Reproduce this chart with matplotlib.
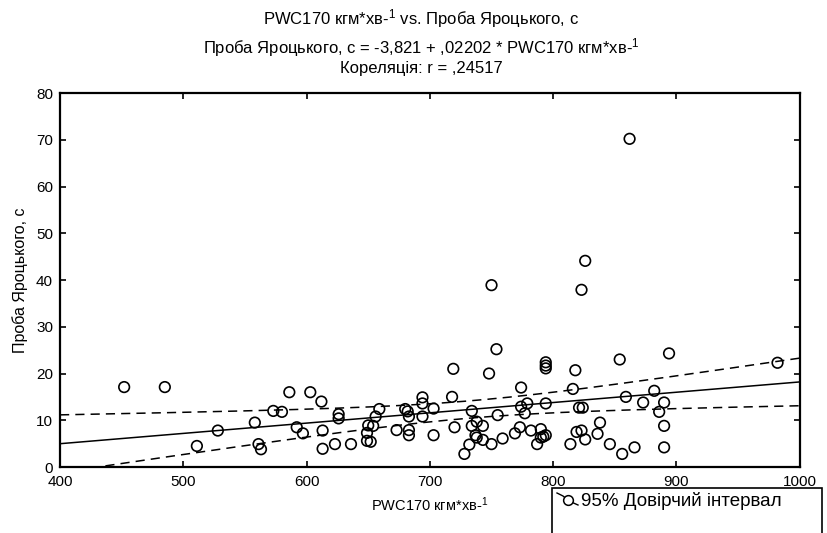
import numpy as np
import matplotlib
matplotlib.use('Agg')
import matplotlib.pyplot as plt
from matplotlib.lines import Line2D
from matplotlib.patches import Rectangle

plt.rcParams['font.family'] = ['Liberation Sans', 'DejaVu Sans']
plt.rcParams['mathtext.fontset'] = 'custom'
plt.rcParams['mathtext.rm'] = 'Liberation Sans'
plt.rcParams['mathtext.it'] = 'Liberation Sans:italic'

# PWC170 (кгм*хв-1) and Проба Яроцького (с)
pwc = [452, 485, 511, 528, 558, 561, 563,
       573, 580, 586, 603, 612, 592, 597, 613, 613, 623, 626, 626, 636,
       649, 650, 654, 649, 652, 656, 659, 673, 680, 682, 683, 683, 683,
       694, 694, 694, 703, 703, 718, 719, 720, 728, 732, 734, 734, 738,
       737, 738, 743, 743, 750, 748, 754, 755, 759, 769, 773, 774, 774,
       779, 777, 782, 790, 787, 790, 792, 794, 794, 794, 794, 794,
       750, 826, 823, 862, 894,
       818, 854, 816, 859, 882, 873, 890, 886, 821, 824, 838, 819, 823,
       826, 836, 814, 846, 856, 866, 890, 890, 982]
yaroc = [17.1, 17.1, 4.5, 7.8, 9.5, 4.9, 3.8,
         12.0, 11.8, 16.0, 16.0, 14.0, 8.5, 7.2, 7.8, 3.9, 4.9, 11.3, 10.4, 4.9,
         7.3, 8.9, 8.8, 5.6, 5.4, 10.8, 12.4, 7.9, 12.4, 11.9, 10.8, 7.9, 6.8,
         14.9, 13.6, 10.8, 12.5, 6.8, 15.0, 21.0, 8.5, 2.8, 4.8, 12.0, 8.8, 9.7,
         6.8, 6.3, 8.8, 5.8, 4.9, 20.0, 25.2, 11.1, 6.1, 7.2, 8.5, 17.0, 12.9,
         13.6, 11.5, 7.8, 8.1, 4.9, 6.3, 6.5, 6.8, 22.4, 21.7, 21.1, 13.6,
         38.9, 44.1, 37.9, 70.2, 24.3,
         20.7, 23.0, 16.7, 15.0, 16.3, 13.8, 13.8, 11.8, 12.7, 12.7, 9.5, 7.5, 7.8,
         5.9, 7.1, 4.9, 4.9, 2.8, 4.2, 8.8, 4.2, 22.3]

# regression from the chart header
b0 = -3.821
b1 = 0.02202
t_crit = 1.984

x = np.array(pwc, dtype=float)
y = np.array(yaroc, dtype=float)
n = len(x)
resid = y - (b0 + b1 * x)
s = np.sqrt(np.sum(resid ** 2) / (n - 2))
sxx = np.sum((x - x.mean()) ** 2)

xs = np.linspace(400, 1000, 200)
fit = b0 + b1 * xs
half = t_crit * s * np.sqrt(1.0 / n + (xs - x.mean()) ** 2 / sxx)

fig = plt.figure(figsize=(8.27, 5.33), dpi=100)
ax = fig.add_axes([0.0726, 0.1238, 0.8944, 0.7017])

ax.plot(xs, fit, color='black', linewidth=1.1)
ax.plot(xs, fit + half, color='black', linewidth=1.1, linestyle=(0, (6, 4)))
ax.plot(xs, fit - half, color='black', linewidth=1.1, linestyle=(0, (6, 4)))
ax.scatter(x, y, s=58, facecolors='none', edgecolors='black', linewidths=1.2, zorder=3)

ax.set_xlim(400, 1000)
ax.set_ylim(0, 80)
ax.set_xticks(np.arange(400, 1001, 100))
ax.set_yticks(np.arange(0, 81, 10))
ax.tick_params(direction='in', length=4, width=1.2, top=True, right=True,
               labelsize=11, pad=5, colors='black')
ax.tick_params(axis='x', pad=5.5)
for sp in ax.spines.values():
    sp.set_linewidth(1.6)

ax.set_xlabel('PWC170 кгм*хв-$^1$', fontsize=10.5, labelpad=5)
ax.set_ylabel('Проба Яроцького, с', fontsize=11.5, labelpad=6)

fig.text(0.509, 0.966, 'PWC170 кгм*хв-$^1$ vs. Проба Яроцького, с', ha='center', va='center', fontsize=12)
fig.text(0.509, 0.91, 'Проба Яроцького, с = -3,821 + ,02202 * PWC170 кгм*хв-$^1$', ha='center', va='center', fontsize=12)
fig.text(0.509, 0.872, 'Кореляція: r = ,24517', ha='center', va='center', fontsize=12)

# legend box below the axes
fig.add_artist(Rectangle((552 / 827, -0.01), 270 / 827, (533 - 488) / 533 + 0.01,
                         transform=fig.transFigure, fill=False, edgecolor='black', linewidth=1.2))
fig.add_artist(Line2D([557 / 827, 563 / 827, 569 / 827, 578 / 827],
                      [1 - 493 / 533, 1 - 496 / 533, 1 - 501 / 533, 1 - 505 / 533],
                      transform=fig.transFigure, color='black', linewidth=1.0))
fig.add_artist(Line2D([568 / 827], [1 - 500 / 533], transform=fig.transFigure, marker='o',
                      markersize=7, markerfacecolor='white', markeredgecolor='black', markeredgewidth=1.1))
fig.text(581 / 827, 1 - 501 / 533, '95% Довірчий інтервал', ha='left', va='center', fontsize=13.5)

fig.savefig('out.png', dpi=100)
